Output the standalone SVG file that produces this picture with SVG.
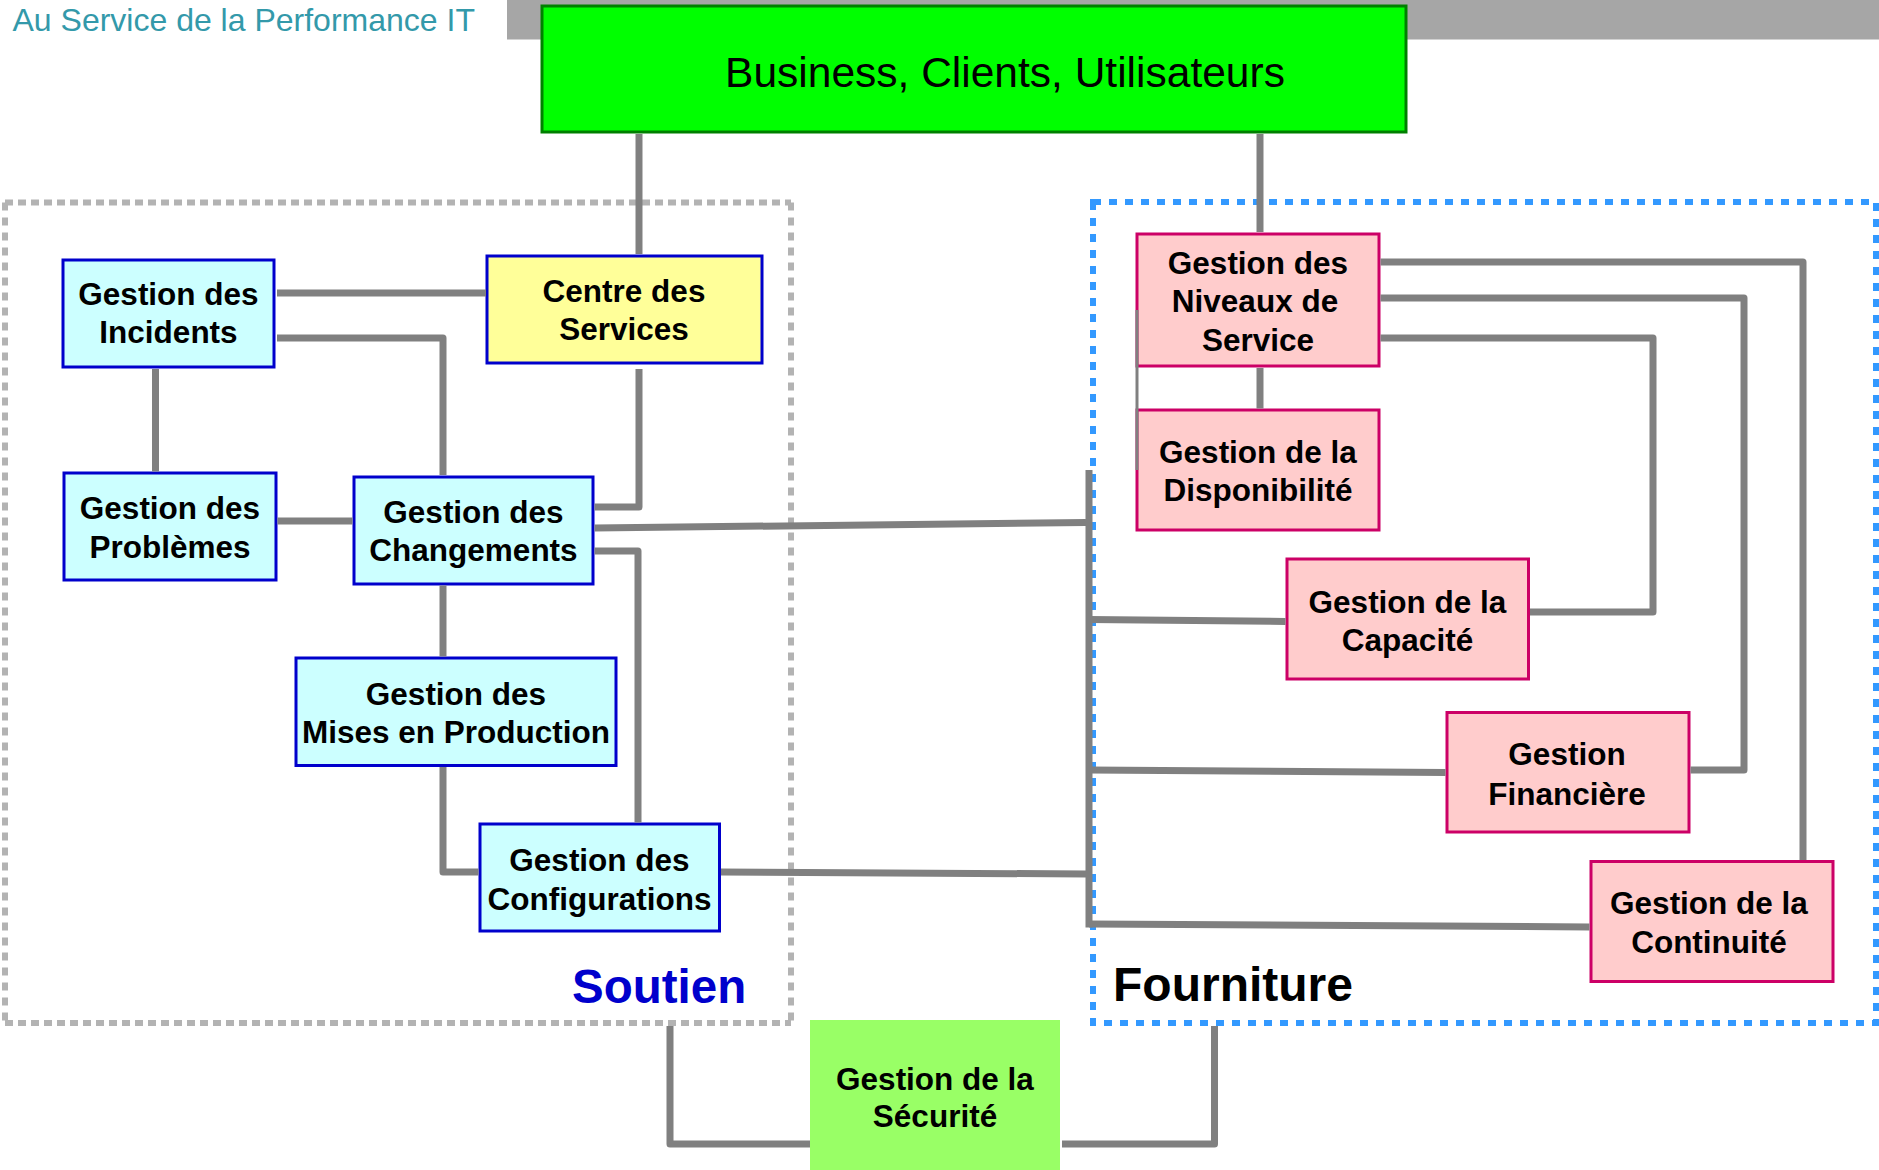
<svg xmlns="http://www.w3.org/2000/svg" width="1879" height="1170" viewBox="0 0 1879 1170">
  <style>
    .lbl { font-family: "Liberation Sans", Arial, sans-serif; font-weight: bold; font-size: 31.5px; fill: #000; text-anchor: middle; }
    .soutienBox rect { fill: #CCFFFF; stroke: #0000CC; stroke-width: 3; }
    .fournBox rect { fill: #FFCCCC; stroke: #CC0066; stroke-width: 3; }
    .wire { fill: none; stroke: #808080; stroke-width: 7; stroke-linejoin: round; stroke-linecap: butt; }
    .wire-thin { fill: none; stroke: #808080; stroke-width: 3; }
    .dash-grey-h { stroke: #B3B3B3; stroke-width: 6; stroke-dasharray: 8 5; fill: none; }
    .dash-grey-v { stroke: #B3B3B3; stroke-width: 6; stroke-dasharray: 8 7; fill: none; }
    .dash-blue { stroke: #3399FF; stroke-width: 6; stroke-dasharray: 8 8; fill: none; }
  </style>

  <!-- header band and title -->
  <rect x="507" y="0" width="1372" height="39.5" fill="#A6A6A6"/>
  <text x="12.5" y="30.5" font-family="'Liberation Sans', Arial, sans-serif" font-size="32" fill="#3399AA">Au Service de la Performance IT</text>

  <!-- domain frames -->
  <g id="frame-soutien">
    <path class="dash-grey-h" d="M5,202.5 H791 M5,1023 H791"/>
    <path class="dash-grey-v" d="M5,202.5 V1023 M791,202.5 V1023"/>
    <text x="572" y="1003" font-family="'Liberation Sans', Arial, sans-serif" font-weight="bold" font-size="47.5" fill="#0000CC">Soutien</text>
  </g>
  <g id="frame-fourniture">
    <path class="dash-blue" d="M1093,202 H1876 V1023 H1093 Z"/>
    <text x="1113" y="1001" font-family="'Liberation Sans', Arial, sans-serif" font-weight="bold" font-size="48" fill="#000">Fourniture</text>
  </g>

  <!-- nodes -->
  <g id="business">
    <rect x="542" y="6" width="864" height="126" fill="#00FF00" stroke="#008000" stroke-width="3"/>
    <text x="1005" y="87" font-family="'Liberation Sans', Arial, sans-serif" font-size="42.5" text-anchor="middle" fill="#000">Business, Clients, Utilisateurs</text>
  </g>

  <g id="incidents" class="soutienBox">
    <rect x="63" y="260" width="211" height="107"/>
    <text class="lbl" x="168.5" y="305">Gestion des</text>
    <text class="lbl" x="168.5" y="343">Incidents</text>
  </g>
  <g id="centre-services">
    <rect x="487" y="256" width="275" height="107" fill="#FFFF99" stroke="#0000CC" stroke-width="3"/>
    <text class="lbl" x="624" y="302">Centre des</text>
    <text class="lbl" x="624" y="340">Services</text>
  </g>
  <g id="problemes" class="soutienBox">
    <rect x="64" y="473" width="212" height="107"/>
    <text class="lbl" x="170" y="519">Gestion des</text>
    <text class="lbl" x="170" y="558">Problèmes</text>
  </g>
  <g id="changements" class="soutienBox">
    <rect x="354" y="477" width="239" height="107"/>
    <text class="lbl" x="473.5" y="523">Gestion des</text>
    <text class="lbl" x="473.5" y="561">Changements</text>
  </g>
  <g id="mises-en-production" class="soutienBox">
    <rect x="296" y="658" width="320" height="107.5"/>
    <text class="lbl" x="456" y="704.5">Gestion des</text>
    <text class="lbl" x="456" y="743">Mises en Production</text>
  </g>
  <g id="configurations" class="soutienBox">
    <rect x="480" y="824" width="239.5" height="107"/>
    <text class="lbl" x="599.5" y="870.5">Gestion des</text>
    <text class="lbl" x="599.5" y="909.5">Configurations</text>
  </g>

  <g id="niveaux-service" class="fournBox">
    <rect x="1137" y="234" width="242" height="132"/>
    <text class="lbl" x="1258" y="274">Gestion des</text>
    <text class="lbl" x="1255" y="312">Niveaux de</text>
    <text class="lbl" x="1258" y="351">Service</text>
  </g>
  <g id="disponibilite" class="fournBox">
    <rect x="1137" y="410" width="242" height="120"/>
    <text class="lbl" x="1258" y="463">Gestion de la</text>
    <text class="lbl" x="1258" y="501">Disponibilité</text>
  </g>
  <g id="capacite" class="fournBox">
    <rect x="1287" y="559" width="241.5" height="120"/>
    <text class="lbl" x="1407.5" y="612.5">Gestion de la</text>
    <text class="lbl" x="1407.5" y="650.5">Capacité</text>
  </g>
  <g id="financiere" class="fournBox">
    <rect x="1447" y="712.5" width="242" height="119.5"/>
    <text class="lbl" x="1567" y="765">Gestion</text>
    <text class="lbl" x="1567" y="804.5">Financière</text>
  </g>
  <g id="continuite" class="fournBox">
    <rect x="1591" y="861.5" width="242" height="120"/>
    <text class="lbl" x="1709" y="913.5">Gestion de la</text>
    <text class="lbl" x="1709" y="953">Continuité</text>
  </g>

  <g id="securite">
    <rect x="810" y="1020" width="250" height="160" fill="#99FF66"/>
    <text class="lbl" x="935" y="1089.5">Gestion de la</text>
    <text class="lbl" x="935" y="1127">Sécurité</text>
  </g>

  <!-- connectors -->
  <g id="connectors">
    <path class="wire" d="M639,134 V254"/>
    <path class="wire" d="M1260,134 V232"/>
    <path class="wire" d="M277,293 H486"/>
    <path class="wire" d="M277,338 H443 V475"/>
    <path class="wire" d="M155.5,369 V471.5"/>
    <path class="wire" d="M277.5,521 H352.5"/>
    <path class="wire" d="M639,369 V507 H594.5"/>
    <path class="wire" d="M594.5,528 L1086,522.5"/>
    <path class="wire" d="M594.5,551 H638 V822.5"/>
    <path class="wire" d="M443,585.5 V656.5"/>
    <path class="wire" d="M443,767 V872 H478.5"/>
    <path class="wire" d="M721,872 L1086,874"/>
    <path class="wire" d="M1089,470 V927.5"/>
    <path class="wire" d="M1089,619.5 L1285.5,621.5"/>
    <path class="wire" d="M1089,770 L1445.5,772.5"/>
    <path class="wire" d="M1089,924 L1589.5,927"/>
    <path class="wire" d="M1380.5,262 H1803 V860"/>
    <path class="wire" d="M1380.5,298 H1744 V770 H1690.5"/>
    <path class="wire" d="M1380.5,338 H1653 V612 H1530"/>
    <path class="wire" d="M1260,368 V408.5"/>
    <path class="wire-thin" d="M1137,310 V470"/>
    <path class="wire" d="M670,1026 V1144 H810"/>
    <path class="wire" d="M1062,1144 H1214.5 V1026"/>
  </g>
</svg>
